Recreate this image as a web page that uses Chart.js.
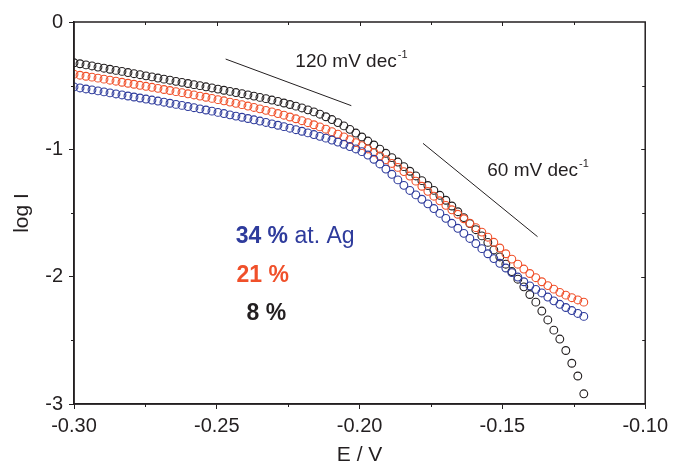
<!DOCTYPE html>
<html>
<head>
<meta charset="utf-8">
<script src="https://cdn.jsdelivr.net/npm/chart.js@4"></script>
<style>
html, body { margin: 0; padding: 0; background: #fff; }
</style>
</head>
<body>
<canvas id="chart" width="673" height="468"></canvas>
<script>
// potential E / V (x values shared by all three curves)
const potential = [
  -0.3000,-0.2979,-0.2958,-0.2937,-0.2916,-0.2895,-0.2874,-0.2853,-0.2832,-0.2811,
  -0.2790,-0.2769,-0.2748,-0.2727,-0.2706,-0.2685,-0.2664,-0.2643,-0.2622,-0.2601,
  -0.2580,-0.2559,-0.2538,-0.2517,-0.2496,-0.2475,-0.2454,-0.2433,-0.2412,-0.2391,
  -0.2370,-0.2349,-0.2328,-0.2307,-0.2286,-0.2265,-0.2244,-0.2223,-0.2202,-0.2181,
  -0.2160,-0.2139,-0.2118,-0.2097,-0.2076,-0.2055,-0.2034,-0.2013,-0.1992,-0.1971,
  -0.1950,-0.1929,-0.1908,-0.1887,-0.1866,-0.1845,-0.1824,-0.1803,-0.1782,-0.1761,
  -0.1740,-0.1719,-0.1698,-0.1677,-0.1656,-0.1635,-0.1614,-0.1593,-0.1572,-0.1551,
  -0.1530,-0.1509,-0.1488,-0.1467,-0.1446,-0.1425,-0.1404,-0.1383,-0.1362,-0.1341,
  -0.1320,-0.1299,-0.1278,-0.1257,-0.1236,-0.1215
];

// log I, 8 % at. Ag (black)
const logI8 = [
  -0.320,-0.328,-0.337,-0.345,-0.354,-0.363,-0.371,-0.380,-0.388,-0.397,
  -0.406,-0.414,-0.423,-0.431,-0.440,-0.449,-0.457,-0.466,-0.474,-0.483,
  -0.492,-0.500,-0.509,-0.518,-0.527,-0.536,-0.545,-0.554,-0.563,-0.573,
  -0.582,-0.592,-0.602,-0.613,-0.624,-0.636,-0.648,-0.661,-0.675,-0.690,
  -0.706,-0.724,-0.744,-0.766,-0.790,-0.816,-0.843,-0.872,-0.903,-0.935,
  -0.966,-0.998,-1.031,-1.065,-1.100,-1.136,-1.172,-1.209,-1.246,-1.284,
  -1.322,-1.361,-1.400,-1.445,-1.490,-1.536,-1.583,-1.631,-1.680,-1.731,
  -1.790,-1.845,-1.902,-1.960,-2.020,-2.080,-2.140,-2.200,-2.270,-2.340,
  -2.420,-2.490,-2.580,-2.680,-2.780,-2.920
];

// log I, 21 % at. Ag (red)
const logI21 = [
  -0.410,-0.418,-0.426,-0.433,-0.441,-0.449,-0.457,-0.465,-0.473,-0.481,
  -0.489,-0.497,-0.505,-0.513,-0.521,-0.530,-0.538,-0.547,-0.555,-0.564,
  -0.573,-0.582,-0.591,-0.600,-0.610,-0.619,-0.629,-0.639,-0.649,-0.660,
  -0.671,-0.682,-0.694,-0.706,-0.719,-0.732,-0.746,-0.760,-0.775,-0.791,
  -0.807,-0.824,-0.842,-0.861,-0.881,-0.902,-0.924,-0.947,-0.971,-0.997,
  -1.024,-1.052,-1.081,-1.111,-1.142,-1.175,-1.210,-1.250,-1.290,-1.330,
  -1.368,-1.404,-1.440,-1.475,-1.510,-1.545,-1.580,-1.615,-1.650,-1.690,
  -1.730,-1.775,-1.820,-1.862,-1.902,-1.940,-1.975,-2.008,-2.040,-2.070,
  -2.098,-2.123,-2.145,-2.165,-2.183,-2.200
];

// log I, 34 % at. Ag (blue)
const logI34 = [
  -0.510,-0.518,-0.526,-0.533,-0.541,-0.549,-0.557,-0.565,-0.573,-0.581,
  -0.589,-0.597,-0.605,-0.613,-0.621,-0.630,-0.638,-0.647,-0.655,-0.664,
  -0.673,-0.682,-0.691,-0.700,-0.710,-0.719,-0.729,-0.739,-0.748,-0.758,
  -0.768,-0.778,-0.789,-0.800,-0.811,-0.822,-0.834,-0.846,-0.858,-0.871,
  -0.884,-0.898,-0.912,-0.927,-0.943,-0.960,-0.978,-0.997,-1.018,-1.045,
  -1.078,-1.115,-1.155,-1.196,-1.240,-1.283,-1.323,-1.358,-1.392,-1.428,
  -1.465,-1.503,-1.542,-1.581,-1.620,-1.660,-1.700,-1.740,-1.780,-1.820,
  -1.858,-1.895,-1.932,-1.968,-2.003,-2.040,-2.072,-2.100,-2.128,-2.160,
  -2.190,-2.217,-2.242,-2.266,-2.289,-2.312
];

// Tafel slope guide lines (end points)
const slope120E = [-0.2469, -0.2029];
const slope120Log = [-0.291, -0.657];
const slope60E = [-0.1778, -0.1377];
const slope60Log = [-0.953, -1.686];

const xMinor = [-0.275, -0.225, -0.175, -0.125];
const yMinor = [-0.5, -1.5, -2.5];

const INK = "#231f20";
const BLUE = "#2e3b9c";
const RED = "#f0502a";
const FONT = "'Liberation Sans', Arial, sans-serif";

const toPoints = (xs, ys) => xs.map((x, i) => ({x: x, y: ys[i]}));

function markerSet(label, ys, color, order) {
  return {
    label: label,
    data: toPoints(potential, ys),
    showLine: false,
    pointStyle: "circle",
    pointRadius: 3.9,
    pointBorderWidth: 1.1,
    pointBorderColor: color,
    pointBackgroundColor: "rgba(255,255,255,0)",
    order: order
  };
}

function guideSet(xs, ys) {
  return {
    data: toPoints(xs, ys),
    showLine: true,
    borderColor: INK,
    borderWidth: 1,
    pointRadius: 0,
    order: 5
  };
}

// frame, minor ticks and in-plot labels
const framePlugin = {
  id: "frame",
  afterDraw(chart) {
    const {ctx, chartArea: a, scales: {x, y}} = chart;
    ctx.save();
    ctx.strokeStyle = INK;
    ctx.lineWidth = 1.5;
    ctx.strokeRect(a.left, a.top, a.right - a.left, a.bottom - a.top);

    ctx.lineWidth = 1;
    const seg = (x1, y1, x2, y2) => { ctx.beginPath(); ctx.moveTo(x1, y1); ctx.lineTo(x2, y2); ctx.stroke(); };
    xMinor.forEach(v => {
      const px = Math.round(x.getPixelForValue(v)) + 0.5;
      seg(px, a.bottom, px, a.bottom + 3);
      seg(px, a.top, px, a.top + 3);
    });
    [-0.25, -0.20, -0.15].forEach(v => {
      const px = Math.round(x.getPixelForValue(v)) + 0.5;
      seg(px, a.top, px, a.top + 4);
    });
    yMinor.forEach(v => {
      const py = Math.round(y.getPixelForValue(v)) + 0.5;
      seg(a.left - 3, py, a.left, py);
      seg(a.right - 3, py, a.right, py);
    });
    [-1, -2].forEach(v => {
      const py = Math.round(y.getPixelForValue(v)) + 0.5;
      seg(a.right - 4, py, a.right, py);
    });

    // text labels
    ctx.textBaseline = "alphabetic";
    ctx.textAlign = "left";
    const sup = (main, px, py) => {
      ctx.fillStyle = INK;
      ctx.font = "19px " + FONT;
      ctx.fillText(main, px, py);
      const w = ctx.measureText(main).width;
      ctx.font = "11px " + FONT;
      ctx.fillText("-1", w + px + 1, py - 9);
    };
    sup("120 mV dec", x.getPixelForValue(-0.2225), y.getPixelForValue(-0.356));
    sup("60 mV dec", x.getPixelForValue(-0.1553), y.getPixelForValue(-1.207));

    let px = x.getPixelForValue(-0.2434);
    let py = y.getPixelForValue(-1.736);
    ctx.fillStyle = BLUE;
    ctx.font = "bold 23px " + FONT;
    ctx.fillText("34 %", px, py);
    let w = ctx.measureText("34 % ").width;
    ctx.font = "23px " + FONT;
    ctx.fillText("at. Ag", px + w, py);

    ctx.fillStyle = RED;
    ctx.font = "bold 23px " + FONT;
    ctx.fillText("21 %", x.getPixelForValue(-0.2431), y.getPixelForValue(-2.04));

    ctx.fillStyle = INK;
    ctx.fillText("8 %", x.getPixelForValue(-0.2396), y.getPixelForValue(-2.34));
    ctx.restore();
  }
};

new Chart(document.getElementById("chart").getContext("2d"), {
  type: "scatter",
  data: {
    datasets: [
      markerSet("34 %", logI34, BLUE, 0),
      markerSet("21 %", logI21, RED, 1),
      markerSet("8 %", logI8, INK, 2),
      guideSet(slope120E, slope120Log),
      guideSet(slope60E, slope60Log)
    ]
  },
  options: {
    responsive: false,
    animation: false,
    devicePixelRatio: 1,
    layout: { padding: { left: 0, right: 24, top: 22, bottom: 0 } },
    plugins: { legend: { display: false }, tooltip: { enabled: false } },
    scales: {
      x: {
        type: "linear",
        min: -0.30,
        max: -0.10,
        afterFit: s => { s.height = 64; },
        ticks: {
          stepSize: 0.05,
          color: INK,
          padding: 5,
          font: { family: FONT, size: 20 },
          callback: v => v.toFixed(2)
        },
        grid: { drawOnChartArea: false, tickLength: 5, color: INK, tickWidth: 1 },
        border: { color: INK, width: 1.5 },
        title: { display: true, text: "E / V", color: INK, font: { family: FONT, size: 21 }, padding: { top: 0, bottom: 0 } }
      },
      y: {
        min: -3,
        max: 0,
        afterFit: s => { s.width = 74; },
        ticks: {
          stepSize: 1,
          color: INK,
          padding: 6,
          font: { family: FONT, size: 20 },
          callback: v => String(v)
        },
        grid: { drawOnChartArea: false, tickLength: 5, color: INK, tickWidth: 1 },
        border: { color: INK, width: 1.5 },
        title: { display: true, text: "log I", color: INK, font: { family: FONT, size: 21 }, padding: { top: 10, bottom: 0 } }
      }
    }
  },
  plugins: [framePlugin]
});
</script>
</body>
</html>
